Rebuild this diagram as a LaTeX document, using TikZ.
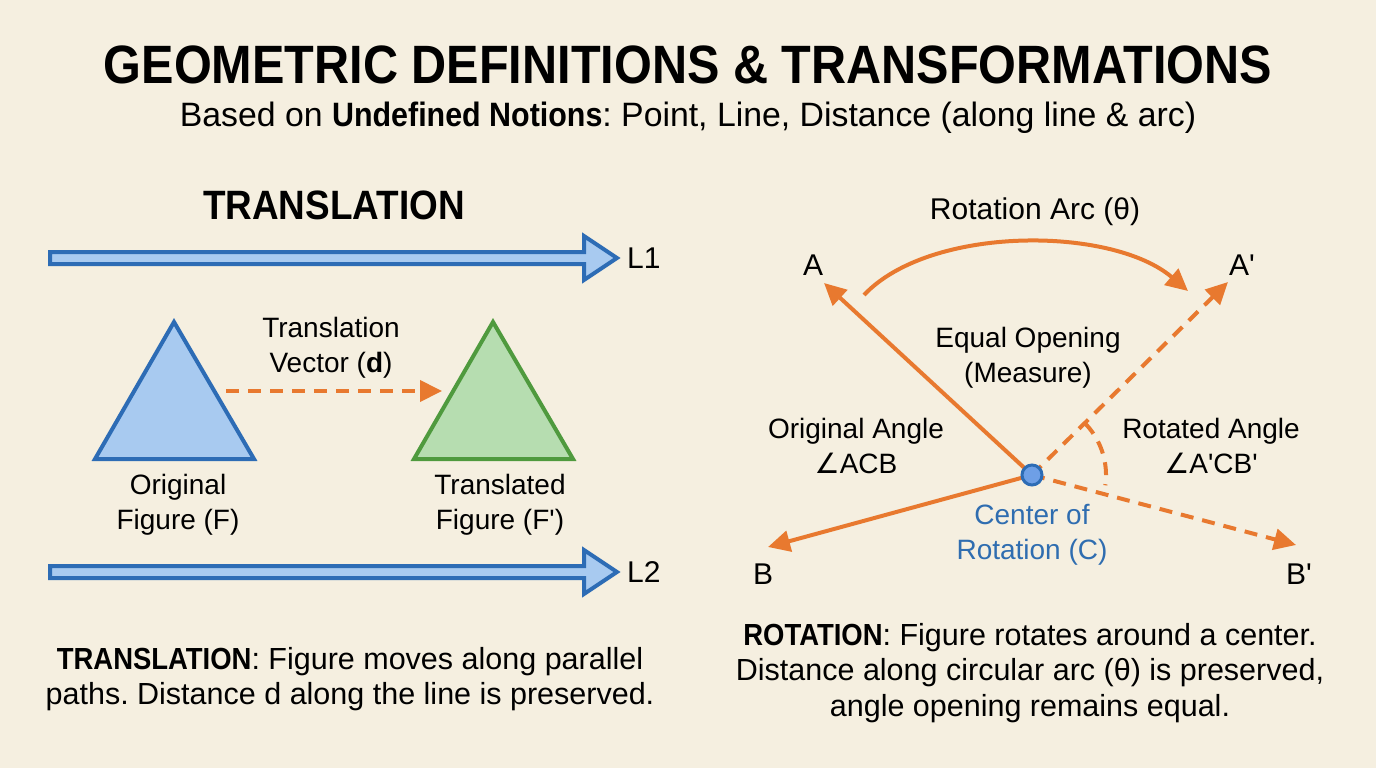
\documentclass[tikz,border=0pt]{standalone}
\usepackage{fontspec}
\newfontfamily\mf{Liberation Sans}
\newfontfamily\tf{Liberation Sans}[FakeStretch=0.9]
\newfontfamily\symf{DejaVu Sans}
\usetikzlibrary{arrows.meta}
\definecolor{bg}{HTML}{F5EFE0}
\definecolor{org}{HTML}{E8792F}
\definecolor{bdark}{HTML}{2D6CB5}
\definecolor{blight}{HTML}{A8CAF0}
\definecolor{gdark}{HTML}{4F9A3E}
\definecolor{glight}{HTML}{B6DDB0}
\definecolor{ctext}{HTML}{2F6DB0}
\definecolor{cfill}{HTML}{6E9FE6}
\frenchspacing
\tikzset{
  lbl/.style={inner sep=0pt, align=center, font={\mf\fontsize{28}{35}\selectfont}},
  desc/.style={inner sep=0pt, align=center, font={\mf\fontsize{30.5}{35.5}\selectfont}},
  ptlbl/.style={inner sep=0pt, font={\mf\fontsize{30}{36}\selectfont}},
  linearrow/.style={fill=blight, draw=bdark, line width=4pt, line join=miter},
  tri/.style={line width=4pt, line join=miter},
  orarrow/.style={draw=org, line width=4pt, -{Triangle[length=22pt,width=21pt]}},
  ordash/.style={orarrow, dash pattern=on 13pt off 9pt},
}
\begin{document}
\frenchspacing
\begin{tikzpicture}[x=1pt,y=-1pt]
\path[use as bounding box, fill=bg] (0,0) rectangle (1376,768);

% Title
\node[inner sep=0pt, font={\tf\bfseries\fontsize{54}{60}\selectfont}] (title) at (688,65) {GEOMETRIC DEFINITIONS \& TRANSFORMATIONS};
\node[inner sep=0pt, font={\mf\fontsize{33.8}{38}\selectfont}] (subtitle) at (688,118) {Based on {\tf\bfseries Undefined Notions}: Point, Line, Distance (along line \& arc)};

% Translation
\node[inner sep=0pt, font={\tf\bfseries\fontsize{41}{46}\selectfont}] (transhead) at (334,205) {TRANSLATION};

\path[linearrow] (50,252) -- (584,252) -- (584,236) -- (617,258) -- (584,280) -- (584,264) -- (50,264) -- cycle;
\coordinate (l1tip) at (617,258);
\node[ptlbl, anchor=west] (L1) at (627,258) {L1};
\path[linearrow] (50,566) -- (584,566) -- (584,550) -- (617,572) -- (584,594) -- (584,578) -- (50,578) -- cycle;
\coordinate (l2tip) at (617,572);
\node[ptlbl, anchor=west] (L2) at (627,572) {L2};

\draw[tri, fill=blight, draw=bdark] (174,322) -- (254,459) -- (95,459) -- cycle;
\draw[tri, fill=glight, draw=gdark] (493,322) -- (573,459) -- (414,459) -- cycle;
\coordinate (trstart) at (226,391);
\coordinate (trend) at (442,391);
\draw[ordash] (trstart) -- (trend);

\node[lbl] (tvec) at (331,348) {Translation\\Vector (\textbf{d})};
\node[lbl] (origF) at (178,505) {Original\\Figure (F)};
\node[lbl] (transF) at (500,505) {Translated\\Figure (F')};

\node[desc] (transdesc) at (350,679) {{\tf\bfseries TRANSLATION}: Figure moves along parallel\\paths. Distance d along the line is preserved.};

% Rotation
\node[inner sep=0pt, font={\mf\fontsize{30}{36}\selectfont}] (rotarc) at (1035,212) {Rotation Arc (θ)};
\coordinate (Atip) at (824,283);
\coordinate (Aptip) at (1228,282);
\coordinate (Btip) at (768,547);
\coordinate (Bptip) at (1296,545);
\coordinate (Cc) at (1032,475);

\draw[orarrow] (Cc) -- (Atip);
\draw[orarrow] (Cc) -- (Btip);
\draw[ordash] (Cc) -- (Aptip);
\draw[ordash] (Cc) -- (Bptip);
\draw[org, line width=4pt, dash pattern=on 13pt off 9pt] plot[domain=-44:8, samples=30] ({1032+74*cos(\x)},{475+74*sin(\x)});

\coordinate (arcS) at (864,295);
\coordinate (arcE) at (1188,291);
\draw[orarrow] (arcS) .. controls (930,225) and (1112,226) .. (arcE);

\node[circle, minimum size=20pt, inner sep=0pt, fill=cfill, draw=bdark, line width=3pt] (C) at (Cc) {};

\node[ptlbl] (A) at (813,265) {A};
\node[ptlbl] (Ap) at (1242,265) {A'};
\node[ptlbl] (B) at (763,574) {B};
\node[ptlbl] (Bp) at (1299,574) {B'};

\node[lbl] (eqop) at (1028,358) {Equal Opening\\(Measure)};
\node[lbl] (origang) at (856,446) {Original Angle\\{\symf ∠}ACB};
\node[lbl] (rotang) at (1211,446) {Rotated Angle\\{\symf ∠}A'CB'};
\node[lbl, text=ctext] (center) at (1032,535) {Center of\\Rotation (C)};

\node[desc] (rotdesc) at (1030,673) {{\tf\bfseries ROTATION}: Figure rotates around a center.\\Distance along circular arc (θ) is preserved,\\angle opening remains equal.};
\end{tikzpicture}
\end{document}
